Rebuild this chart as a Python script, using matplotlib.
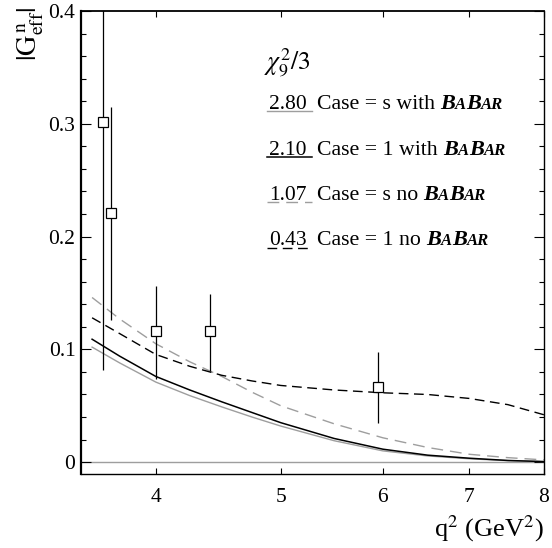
import matplotlib
matplotlib.use('Agg')
import matplotlib.pyplot as plt
from matplotlib.ticker import NullLocator, MultipleLocator
from matplotlib.transforms import offset_copy
from matplotlib.lines import Line2D

plt.rcParams['font.family'] = 'Liberation Serif'
plt.rcParams['mathtext.fontset'] = 'stix'

# measured points
q2_data = [3.64, 3.69, 4.00, 4.41, 5.95]
G_data = [0.302, 0.221, 0.116, 0.116, 0.067]
err_lo = [0.220, 0.095, 0.042, 0.035, 0.032]
err_hi = [0.200, 0.094, 0.040, 0.033, 0.031]

# fitted curves
q2_curve = [3.57, 3.75, 4.0, 4.25, 4.5, 4.75, 5.0, 5.5, 6.0, 6.5, 7.0, 7.5, 8.0]
G_s_babar = [0.102, 0.088, 0.071, 0.059, 0.049, 0.040, 0.032, 0.019, 0.010, 0.0055, 0.003, 0.0013, 0.0005]
G_1_babar = [0.109, 0.094, 0.076, 0.064, 0.0535, 0.044, 0.035, 0.021, 0.0115, 0.0062, 0.0035, 0.0015, 0.0005]
G_s_nobabar = [0.146, 0.127, 0.105, 0.089, 0.076, 0.062, 0.050, 0.034, 0.0216, 0.013, 0.007, 0.004, 0.002]
G_1_nobabar = [0.128, 0.114, 0.0955, 0.085, 0.077, 0.072, 0.068, 0.064, 0.0615, 0.060, 0.0565, 0.051, 0.042]

chi2 = ['2.80', '2.10', '1.07', '0.43']
cases = ['Case = s with', 'Case = 1 with', 'Case = s no', 'Case = 1 no']

x_ticks = [4, 5, 6, 7, 8]
y_ticks = [0, 0.1, 0.2, 0.3, 0.4]
y_ticklabels = ['0', '0.1', '0.2', '0.3', '0.4']

fig = plt.figure(figsize=(5.52, 5.48), dpi=100)
ax = fig.add_axes([81 / 552, 74 / 548, 463 / 552, 463 / 548])

gray = '0.62'
styles = [
    dict(color=gray, lw=1.0, ls='-'),
    dict(color='black', lw=1.1, ls='-'),
    dict(color=gray, lw=1.0, ls=(0, (8.5, 5))),
    dict(color='black', lw=1.0, ls=(0, (7, 4))),
]
curves = [G_s_babar, G_1_babar, G_s_nobabar, G_1_nobabar]

ax.axhline(0, color=gray, lw=1.0, zorder=1)
for c, st in zip(curves, styles):
    ax.plot(q2_curve, c, zorder=2, **st)

ax.errorbar(q2_data, G_data, yerr=[err_lo, err_hi], fmt='s', mfc='white', mec='black',
            ms=7, mew=0.9, ecolor='black', elinewidth=0.9, capsize=0, zorder=3)

ax.set_xscale('log')
ax.set_xlim(3.5, 8)
ax.set_ylim(-0.0105, 0.4)
ax.set_xticks(x_ticks)
ax.set_xticklabels([str(v) for v in x_ticks])
ax.xaxis.set_minor_locator(NullLocator())
ax.set_yticks(y_ticks)
ax.set_yticklabels(y_ticklabels)
ax.yaxis.set_minor_locator(MultipleLocator(0.02))

ax.tick_params(axis='both', which='both', direction='in', top=True, right=True, labelsize=15.5)
ax.tick_params(axis='x', which='major', length=4.5, width=0.8, pad=10)
ax.tick_params(axis='y', which='major', length=7, width=0.8, pad=4)
ax.tick_params(axis='y', which='minor', length=3.5, width=0.8)
ax.spines['left'].set_linewidth(1.6)
ax.spines['top'].set_linewidth(1.3)
ax.spines['right'].set_linewidth(1.0)
ax.spines['bottom'].set_linewidth(1.0)

fig.text(31 / 552, 1 - 34 / 548, r'$|\mathrm{G}^{\,\mathrm{n}}_{\mathrm{eff}}|$', rotation=90,
         ha='center', va='center', fontsize=20)
fig.text(544 / 552, 1 - 536 / 548, r'q$^2$ (GeV$^2$)', ha='right', va='baseline', fontsize=19)

# legend block
ax.text(0.395, 0.873, r'$\chi^2_9/3$', transform=ax.transAxes, fontsize=18.5, va='baseline')
renderer = fig.canvas.get_renderer()
base_y = [0.788, 0.690, 0.592, 0.494]
for i in range(4):
    y = base_y[i]
    ax.text(0.406, y, chi2[i], transform=ax.transAxes, fontsize=15.5, va='baseline')
    ax.add_line(Line2D([0.402, 0.499], [y - 0.005, y - 0.005], transform=ax.transAxes, **styles[i]))
    pieces = [(cases[i], 15.7, 'normal', 'normal'), ('B', 16, 'bold', 'italic'), ('A', 12, 'bold', 'italic'),
              ('B', 16, 'bold', 'italic'), ('AR', 12, 'bold', 'italic')]
    dx = 0
    for j, (s, fs, fw, sty) in enumerate(pieces):
        tr = offset_copy(ax.transAxes, fig=fig, x=dx, y=0, units='dots')
        t = ax.text(0.510, y, s, transform=tr, fontsize=fs, fontweight=fw, fontstyle=sty, va='baseline')
        dx += t.get_window_extent(renderer).width
        if j == 0:
            dx += 5

fig.savefig('out.png', dpi=100)
